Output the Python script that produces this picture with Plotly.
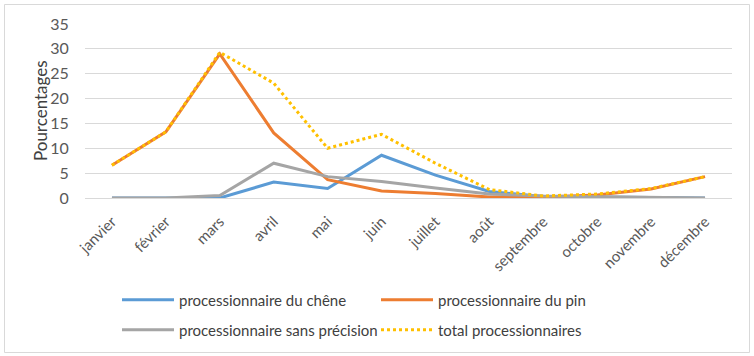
import plotly.graph_objects as go

mois = ["janvier", "février", "mars", "avril", "mai", "juin", "juillet",
        "août", "septembre", "octobre", "novembre", "décembre"]
chene = [0, 0, 0, 3.2, 1.9, 8.6, 4.6, 1.3, 0.3, 0.2, 0.1, 0]
pin = [6.6, 13.3, 29.0, 13.1, 3.7, 1.4, 0.9, 0.2, 0.2, 0.6, 1.8, 4.3]
sans = [0, 0, 0.5, 7.0, 4.3, 3.3, 2.0, 0.8, 0.4, 0.3, 0.1, 0]
total = [6.6, 13.3, 29.3, 23.1, 10.0, 12.8, 7.0, 1.7, 0.4, 0.8, 1.9, 4.3]

FONT = "Lato, Carlito, 'Open Sans', sans-serif"
W, H = 754, 356
L, R, T, B = 85, 22, 24, 158
pw, ph = W - L - R, H - T - B

def px(x):
    return (x - L) / pw

def py(y):
    return (H - B - y) / ph

fig = go.Figure()
fig.add_trace(go.Scatter(x=mois, y=chene, mode="lines", name="processionnaire du chêne",
                         line=dict(color="#5B9BD5", width=3), legend="legend"))
fig.add_trace(go.Scatter(x=mois, y=pin, mode="lines", name="processionnaire du pin",
                         line=dict(color="#ED7D31", width=3), legend="legend"))
fig.add_trace(go.Scatter(x=mois, y=sans, mode="lines", name="processionnaire sans précision",
                         line=dict(color="#A5A5A5", width=3), legend="legend2"))
fig.add_trace(go.Scatter(x=mois, y=total, mode="lines", name="total processionnaires",
                         line=dict(color="#FFC000", width=3, dash="dot"), legend="legend2"))

legfont = dict(family=FONT, size=15, color="#404040")
legcommon = dict(orientation="h", xanchor="left", yanchor="middle",
                 entrywidth=192, entrywidthmode="pixels", font=legfont,
                 itemwidth=52, bgcolor="rgba(0,0,0,0)", traceorder="normal")
fig.update_layout(
    width=W, height=H,
    margin=dict(l=L, r=R, t=T, b=B, autoexpand=False),
    paper_bgcolor="white", plot_bgcolor="white",
    font=dict(family=FONT, size=14, color="#595959"),
    xaxis=dict(type="category", range=[-0.5, 11.5], tickangle=-45, showgrid=False,
               showline=False, ticks="outside", ticklen=8, tickcolor="rgba(0,0,0,0)",
               automargin=False,
               tickfont=dict(size=15, color="#595959")),
    yaxis=dict(range=[0, 35], dtick=5, showgrid=True, gridcolor="#D9D9D9", gridwidth=1,
               zeroline=True, zerolinecolor="#D9D9D9", zerolinewidth=1,
               ticks="outside", ticklen=12, tickcolor="rgba(0,0,0,0)", automargin=False,
               tickfont=dict(size=16, color="#595959")),
    legend=dict(x=px(117), y=py(300), **legcommon),
    legend2=dict(x=px(117), y=py(330), **legcommon),
    showlegend=True,
)

fig.add_annotation(text="Pourcentages", x=px(40), y=py(111), xref="paper", yref="paper",
                   xanchor="center", yanchor="middle",
                   textangle=-90, showarrow=False, font=dict(family=FONT, size=17, color="#404040"))

fig.add_shape(type="rect", xref="paper", yref="paper",
              x0=px(4.5), x1=px(749.5), y0=py(352.5), y1=py(4.5),
              line=dict(color="#D9D9D9", width=1), fillcolor="rgba(0,0,0,0)", layer="below")

fig.write_html("out.html", config={"displayModeBar": False},
               post_script="document.body.style.margin='0px';")
